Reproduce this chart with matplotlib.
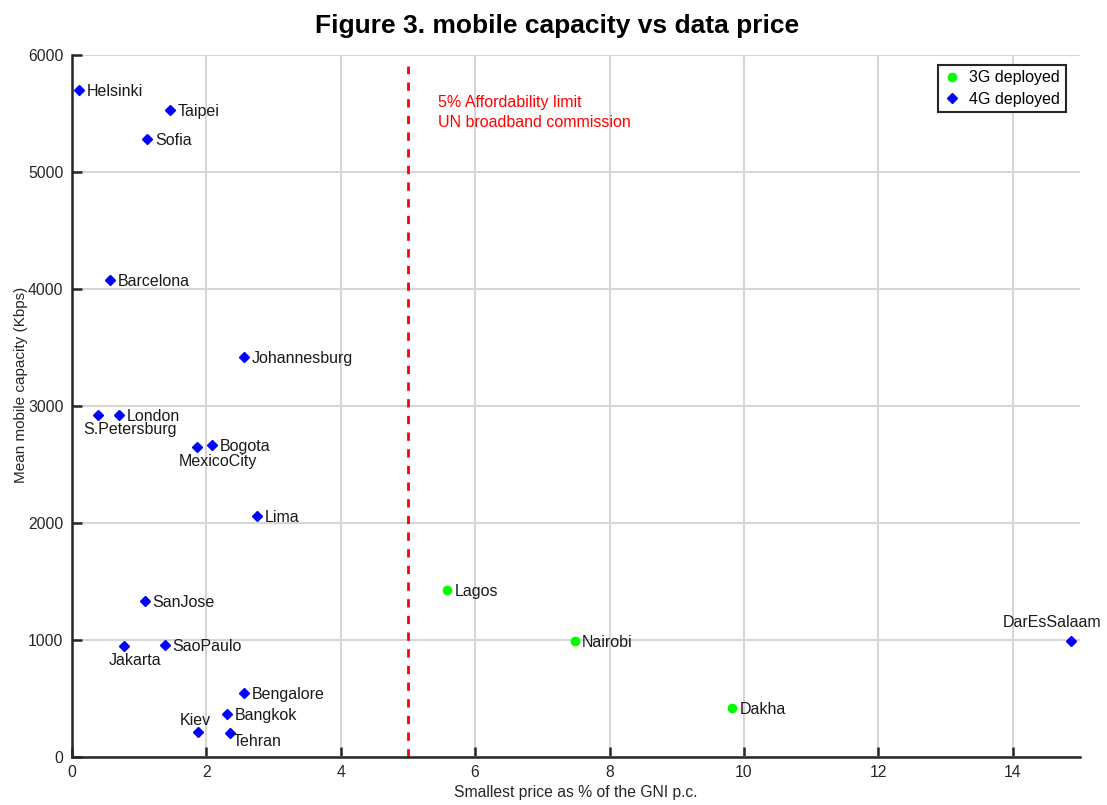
import matplotlib
matplotlib.use("Agg")
import matplotlib.pyplot as plt

plt.rcParams['font.family'] = ['Liberation Sans', 'DejaVu Sans']

# 4G cities
cities_4g = ["Helsinki", "Taipei", "Sofia", "Barcelona", "Johannesburg", "S.Petersburg",
             "London", "MexicoCity", "Bogota", "Lima", "SanJose", "Jakarta", "SaoPaulo",
             "Bengalore", "Bangkok", "Kiev", "Tehran", "DarEsSalaam"]
price_4g = [0.10, 1.46, 1.12, 0.57, 2.56, 0.39, 0.70, 1.86, 2.08, 2.76, 1.08, 0.77, 1.38,
            2.56, 2.31, 1.88, 2.35, 14.87]
cap_4g = [5700, 5530, 5280, 4080, 3420, 2920, 2920, 2650, 2670, 2060, 1330, 950, 960,
          545, 365, 215, 205, 990]

# 3G cities
cities_3g = ["Lagos", "Nairobi", "Dakha"]
price_3g = [5.58, 7.48, 9.82]
cap_3g = [1425, 990, 415]

# label placement: (dx points, dy points, ha, va)
place = {
    "S.Petersburg": (23, -5, 'center', 'top'),
    "MexicoCity": (15, -5, 'center', 'top'),
    "Jakarta": (8, -5, 'center', 'top'),
    "Kiev": (-2, 3, 'center', 'bottom'),
    "Tehran": (2, -1, 'left', 'top'),
    "DarEsSalaam": (-14, 8, 'center', 'bottom'),
}

fig = plt.figure(figsize=(11.07, 8.05), dpi=100)
ax = fig.add_axes([0.065, 0.0596, 0.9105, 0.872])

ax.grid(True, color='#d6d6d6', linewidth=1.5, zorder=0)
ax.set_axisbelow(True)

ax.axvline(5, color='red', linestyle=(0, (3, 3)), linewidth=2, ymax=0.985, zorder=1)

ax.plot(price_3g, cap_3g, linestyle='none', marker='o', color=(0, 1, 0), markersize=6,
        label='3G deployed', zorder=3)
ax.plot(price_4g, cap_4g, linestyle='none', marker='D', color=(0, 0, 1), markersize=5.5,
        label='4G deployed', zorder=3)

for names, xs, ys in ((cities_4g, price_4g, cap_4g), (cities_3g, price_3g, cap_3g)):
    for n, x, y in zip(names, xs, ys):
        dx, dy, ha, va = place.get(n, (5.5, -1, 'left', 'center'))
        ax.annotate(n, (x, y), xytext=(dx, dy), textcoords='offset points',
                    ha=ha, va=va, fontsize=11.5, color='#1a1a1a', zorder=4)

ax.text(5.45, 5660, "5% Affordability limit\nUN broadband commission", color='red',
        fontsize=11.5, ha='left', va='top', linespacing=1.4)

ax.set_xlim(0, 15)
ax.set_ylim(0, 6000)
ax.set_xticks([0, 2, 4, 6, 8, 10, 12, 14])
ax.set_yticks([0, 1000, 2000, 3000, 4000, 5000, 6000])

for s in ('top', 'right'):
    ax.spines[s].set_visible(False)
for s in ('left', 'bottom'):
    ax.spines[s].set_linewidth(1.8)
    ax.spines[s].set_color('#262626')

ax.tick_params(direction='in', length=7, width=1.8, color='#262626',
               labelsize=11.3, labelcolor='#262626', pad=6)

ax.set_xlabel("Smallest price as % of the GNI p.c.", fontsize=11.3, color='#262626', labelpad=3)
ax.set_ylabel("Mean mobile capacity (Kbps)", fontsize=11, color='#262626')
ax.yaxis.set_label_coords(-0.044, 0.53)
fig.suptitle("Figure 3. mobile capacity vs data price", fontsize=19, fontweight='bold',
             x=0.503, y=0.983, va='top')

leg = ax.legend(loc='upper right', bbox_to_anchor=(0.986, 0.986), fontsize=11.5, fancybox=False,
                edgecolor='#262626', framealpha=1, handlelength=1.0, handletextpad=0.6,
                borderpad=0.35, labelspacing=0.4, borderaxespad=0)
leg.get_frame().set_linewidth(1.5)

fig.savefig("out.png", dpi=100)
